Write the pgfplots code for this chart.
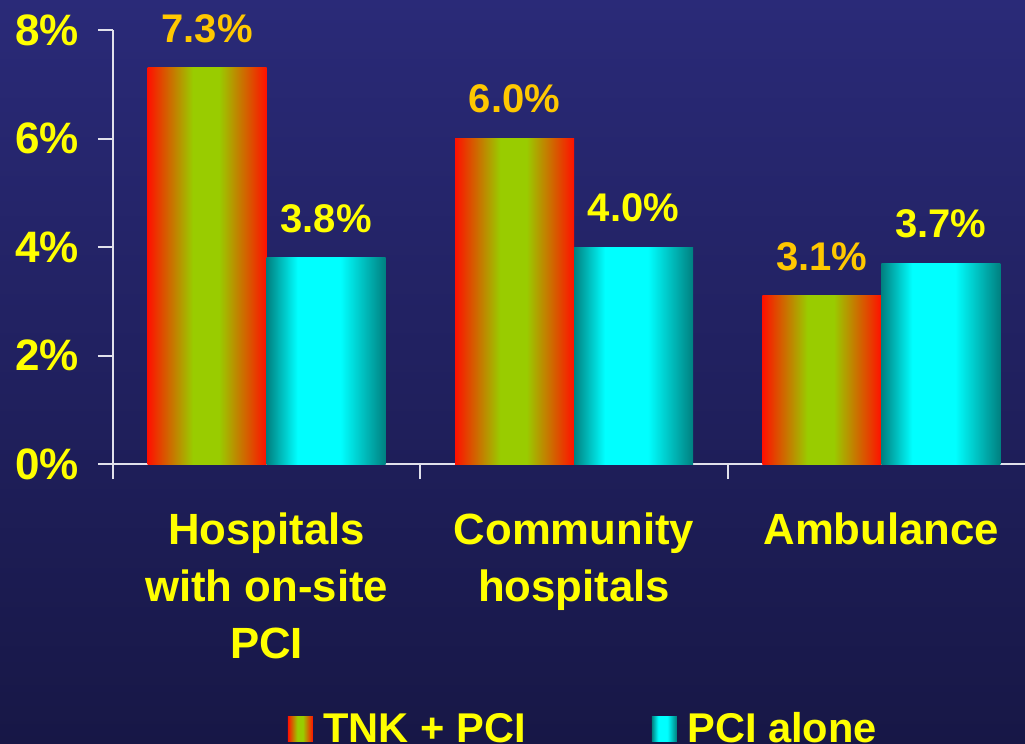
\documentclass[border=0pt]{standalone}
\usepackage{fontspec}
\setmainfont{Liberation Sans}
\usepackage{pgfplots}
\pgfplotsset{compat=1.18}
\definecolor{bgtop}{RGB}{42,42,120}
\definecolor{bgbot}{RGB}{23,23,70}
\definecolor{tred}{RGB}{255,16,0}
\definecolor{tgreen}{RGB}{153,204,0}
\definecolor{pteal}{RGB}{0,128,128}
\definecolor{pcyan}{RGB}{0,255,255}
\definecolor{gold}{RGB}{255,200,0}
\definecolor{yel}{RGB}{255,255,0}
\definecolor{axgray}{RGB}{225,225,235}
\pgfdeclarehorizontalshading{tnkshade}{100bp}{color(0bp)=(tred); color(25bp)=(tred); color(44bp)=(tgreen); color(55bp)=(tgreen); color(75bp)=(tred); color(100bp)=(tred)}
\pgfdeclarehorizontalshading{pcishade}{100bp}{color(0bp)=(pteal); color(25bp)=(pteal); color(38bp)=(pcyan); color(56bp)=(pcyan); color(75bp)=(pteal); color(100bp)=(pteal)}
\pgfplotsset{
  tnk/.style={draw=none, shading=tnkshade, bar shift=-44.625pt,
    every node near coord/.append style={text=gold},
    legend image code/.code={\path[shading=tnkshade] (0pt,-9.375pt) rectangle (18.75pt,9.375pt);}},
  pci/.style={draw=none, shading=pcishade, bar shift=44.625pt,
    every node near coord/.append style={text=yel},
    legend image code/.code={\path[shading=pcishade] (0pt,-9.375pt) rectangle (18.75pt,9.375pt);}},
}
\begin{document}
\begin{tikzpicture}
\clip (0,0) rectangle (768.75pt,557.25pt);
\shade[top color=bgtop,bottom color=bgbot] (0,0) rectangle (768.75pt,557.25pt);
\begin{axis}[
  at={(84.75pt,209.25pt)}, anchor=south west,
  scale only axis, width=691.5pt, height=325.5pt,
  xmin=-0.5, xmax=2.5, ymin=0, ymax=8,
  axis lines*=left,
  axis line style={axgray, line width=1.5pt},
  every tick/.style={axgray, line width=1.5pt},
  tick align=outside,
  major tick length=11.25pt,
  ytick={0,2,4,6,8},
  yticklabels={0\%,2\%,4\%,6\%,8\%},
  yticklabel style={font=\fontsize{33}{40}\selectfont\bfseries, text=yel, xshift=-11pt},
  xtick={-0.5,0.5,1.5,2.5},
  xticklabels={},
  extra x ticks={0,1,2},
  extra x tick labels={{Hospitals\\with on-site\\PCI},{Community\\hospitals},{Ambulance}},
  extra x tick style={major tick length=0pt},
  xticklabel style={font=\fontsize{32.8}{42.75}\selectfont\bfseries, text=yel, align=center, yshift=-33pt},
  ybar, bar width=89.25pt,
  nodes near coords={\pgfmathprintnumber[fixed,fixed zerofill,precision=1,assume math mode=true]{\pgfplotspointmeta}\%},
  every node near coord/.append style={font=\fontsize{30}{36}\selectfont\bfseries, yshift=15.5pt},
  legend columns=2,
  legend style={draw=none, fill=none, at={(0.185,-0.61)}, anchor=west,
    font=\fontsize{31.2}{38}\selectfont\bfseries, text=yel,
    /tikz/every odd column/.append style={column sep=6pt},
    /tikz/every even column/.append style={column sep=92.5pt}},
]
\addplot[tnk] coordinates {(0,7.3)};
\addplot[pci] coordinates {(0,3.8)};
\addplot[tnk, forget plot] coordinates {(1,6.0)};
\addplot[pci, forget plot] coordinates {(1,4.0)};
\addplot[tnk, forget plot] coordinates {(2,3.1)};
\addplot[pci, forget plot] coordinates {(2,3.7)};
\legend{TNK + PCI, PCI alone}
\end{axis}
\end{tikzpicture}
\end{document}
